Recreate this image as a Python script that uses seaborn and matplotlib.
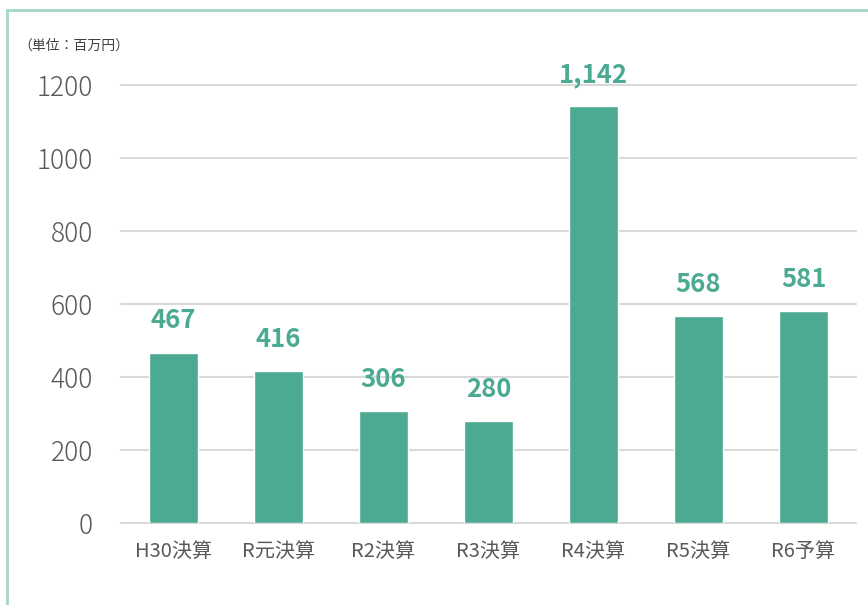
import matplotlib
matplotlib.use("Agg")
import matplotlib.pyplot as plt
import seaborn as sns
import pandas as pd
from matplotlib.lines import Line2D

categories = ["H30決算", "R元決算", "R2決算", "R3決算", "R4決算", "R5決算", "R6予算"]
values = [467, 416, 306, 280, 1142, 568, 581]
yticks = [0, 200, 400, 600, 800, 1000, 1200]
unit_label = "（単位：百万円）"

sns.set_theme(style="white")
plt.rcParams['font.family'] = ['Noto Sans CJK JP', 'DejaVu Sans']

bar_color = "#4BAA91"
label_color = "#4BAA91"
tick_color = "#595959"

df = pd.DataFrame({"cat": categories, "val": values})

fig = plt.figure(figsize=(8.68, 6.05), dpi=100)
ax = fig.add_axes([121/868, 1-523/605, (856-121)/868, (523-85)/605])

sns.barplot(data=df, x="cat", y="val", color=bar_color, width=0.46, ax=ax,
            saturation=1, zorder=3)

ax.set_ylim(0, 1200)
ax.set_xlim(-0.5, len(categories)-0.5)
ax.set_yticks(yticks)
ax.set_yticklabels([str(t) for t in yticks])
ax.set_xlabel("")
ax.set_ylabel("")

for y in yticks:
    ax.axhline(y, color="#d9d9d9", linewidth=1.5, zorder=1, clip_on=False)

for s in ax.spines.values():
    s.set_visible(False)

ax.tick_params(axis="y", length=0, pad=20, labelsize=19, labelcolor=tick_color)
ax.tick_params(axis="x", length=0, pad=13, labelsize=14.5, labelcolor=tick_color)
for t in ax.get_yticklabels():
    t.set_fontweight("light")

for c in ax.containers:
    ax.bar_label(c, labels=[f"{v:,.0f}" for v in values], padding=13,
                 fontsize=18.5, fontweight="bold", color=label_color, clip_on=False)

fig.text(18/868, 1-46/605, unit_label, fontsize=10, color="#404040",
         ha="left", va="center")

border = "#a3d6c6"
fig.add_artist(Line2D([7/868, 7/868], [0, 1-10/605], color=border, linewidth=2,
                      transform=fig.transFigure))
fig.add_artist(Line2D([7/868, 1], [1-10/605, 1-10/605], color=border, linewidth=2,
                      transform=fig.transFigure))

fig.savefig("out.png", dpi=100)
